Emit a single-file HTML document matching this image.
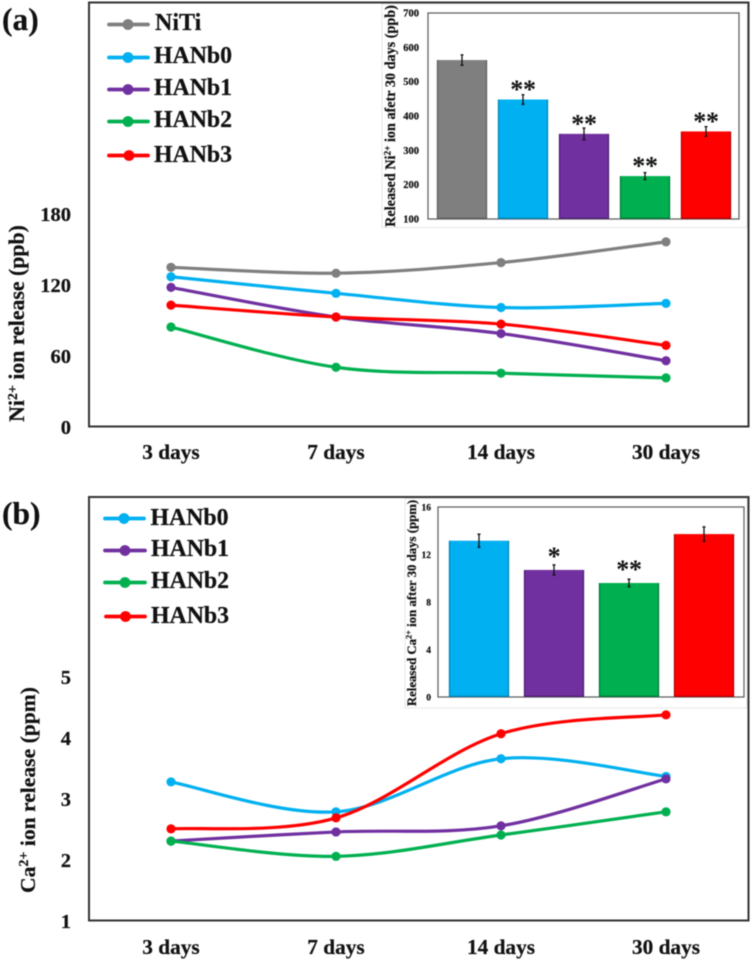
<!DOCTYPE html>
<html lang="en">
<head>
<meta charset="utf-8">
<title>Ni and Ca ion release charts</title>
<style>
html,body{margin:0;padding:0;background:#fff;width:751px;height:960px;overflow:hidden}
svg{display:block;filter:blur(0.4px)}
text{font-family:"Liberation Serif",serif;font-weight:bold;fill:#111;stroke:#111;stroke-width:0.22px}
</style>
</head>
<body>
<svg id="figure" xmlns="http://www.w3.org/2000/svg" width="751" height="960" viewBox="0 0 751 960">
  <rect width="751" height="960" fill="#fff"/>

  <text x="2" y="30" font-size="31.5">(a)</text>
  <text x="2" y="524" font-size="31.5">(b)</text>

  <rect x="89" y="2.5" width="659.5" height="424" fill="#fff" stroke="#333" stroke-width="2"/>
  <rect x="89" y="497" width="659.5" height="423.5" fill="#fff" stroke="#333" stroke-width="2"/>

  <g id="panelA"></g>
  <g id="panelB"></g>

  <text transform="translate(24,323.5) rotate(-90)" text-anchor="middle" font-size="21.8">Ni<tspan dy="-7" font-size="14">2+</tspan><tspan dy="7"> ion release (ppb)</tspan></text>
  <text transform="translate(35,790) rotate(-90)" text-anchor="middle" font-size="21.6">Ca<tspan dy="-7" font-size="14">2+</tspan><tspan dy="7"> ion release (ppm)</tspan></text>

  <g>
    <g><line x1="109" x2="148" y1="24.5" y2="24.5" stroke="#7f7f7f" stroke-width="3.8" stroke-linecap="round"/><circle cx="128" cy="24.5" r="5.4" fill="#7f7f7f"/><text x="155" y="30" font-size="24">NiTi</text></g>
    <g><line x1="109" x2="148" y1="57.5" y2="57.5" stroke="#00b0f0" stroke-width="3.8" stroke-linecap="round"/><circle cx="128" cy="57.5" r="5.4" fill="#00b0f0"/><text x="154" y="63" font-size="23.8">HANb0</text></g>
    <g><line x1="109" x2="148" y1="89.5" y2="89.5" stroke="#7030a0" stroke-width="3.8" stroke-linecap="round"/><circle cx="128" cy="89.5" r="5.4" fill="#7030a0"/><text x="154" y="95" font-size="23.8">HANb1</text></g>
    <g><line x1="109" x2="148" y1="121.5" y2="121.5" stroke="#00b050" stroke-width="3.8" stroke-linecap="round"/><circle cx="128" cy="121.5" r="5.4" fill="#00b050"/><text x="154" y="127" font-size="23.8">HANb2</text></g>
    <g><line x1="109" x2="148" y1="155.5" y2="155.5" stroke="#ff0000" stroke-width="3.8" stroke-linecap="round"/><circle cx="129" cy="155.5" r="5.4" fill="#ff0000"/><text x="154" y="162" font-size="23.8">HANb3</text></g>
  </g>

  <g>
    <g><line x1="105" x2="144" y1="518.5" y2="518.5" stroke="#00b0f0" stroke-width="3.8" stroke-linecap="round"/><circle cx="124" cy="518.5" r="5.4" fill="#00b0f0"/><text x="150.500" y="525" font-size="23.8">HANb0</text></g>
    <g><line x1="105" x2="145" y1="550.5" y2="550.5" stroke="#7030a0" stroke-width="3.8" stroke-linecap="round"/><circle cx="125" cy="550.5" r="5.4" fill="#7030a0"/><text x="151" y="556" font-size="23.8">HANb1</text></g>
    <g><line x1="105" x2="145" y1="582.5" y2="582.5" stroke="#00b050" stroke-width="3.8" stroke-linecap="round"/><circle cx="125" cy="582.5" r="5.4" fill="#00b050"/><text x="151" y="588" font-size="23.8">HANb2</text></g>
    <g><line x1="106" x2="145" y1="616.5" y2="616.5" stroke="#ff0000" stroke-width="3.8" stroke-linecap="round"/><circle cx="125.500" cy="616.5" r="5.4" fill="#ff0000"/><text x="151" y="623" font-size="23.8">HANb3</text></g>
  </g>

  <rect x="382" y="4" width="365" height="223.5" fill="#fff" stroke="#e6e6e6" stroke-width="1"/>
  <rect x="405" y="498.5" width="342" height="209.5" fill="#fff" stroke="#e6e6e6" stroke-width="1"/>
  <g id="insetA"></g>
  <g id="insetB"></g>

  <text transform="translate(395,116) rotate(-90)" text-anchor="middle" font-size="14.2">Released Ni<tspan dy="-4.500" font-size="9.300">2+</tspan><tspan dy="4.500"> ion afetr 30 days (ppb)</tspan></text>
  <text transform="translate(416,603) rotate(-90)" text-anchor="middle" font-size="12.8">Released Ca<tspan dy="-4.500" font-size="8.300">2+</tspan><tspan dy="4.500"> ion after 30 days (ppm)</tspan></text>
</svg>

<script>
// Shared categories
const days = ["3 days", "7 days", "14 days", "30 days"];

// Panel (a) Ni2+ release, ppb
const aTicks = [0, 60, 120, 180];
const aNiTi = [135, 130, 139, 156.5];
const aHANb0 = [127, 113, 101, 104.5];
const aHANb1 = [118, 93, 79, 56];
const aHANb2 = [84.5, 50.5, 45.5, 41.5];
const aHANb3 = [103, 93, 87, 69];

// Panel (b) Ca2+ release, ppm
const bTicks = [1, 2, 3, 4, 5];
const bHANb0 = [3.28, 2.79, 3.66, 3.37];
const bHANb1 = [2.31, 2.46, 2.56, 3.33];
const bHANb2 = [2.31, 2.06, 2.41, 2.79];
const bHANb3 = [2.51, 2.69, 4.07, 4.38];

// Inset (a) Ni2+ after 30 days, ppb
const insetATicks = [100, 200, 300, 400, 500, 600, 700];
const insetAValues = [563, 448, 348, 225, 355];
const insetAErrors = [15, 14, 17, 10, 14];
const insetAStars = ["", "**", "**", "**", "**"];

// Inset (b) Ca2+ after 30 days, ppm
const insetBTicks = [0, 4, 8, 12, 16];
const insetBValues = [13.16, 10.7, 9.6, 13.72];
const insetBErrors = [0.55, 0.42, 0.32, 0.6];
const insetBStars = ["", "*", "**", ""];

const NS = "http://www.w3.org/2000/svg";
const GRAY = "#7f7f7f", BLUE = "#00b0f0", PURPLE = "#7030a0", GREEN = "#00b050", RED = "#ff0000";

function make(parent, tag, attrs, content) {
  const node = document.createElementNS(NS, tag);
  for (const key in attrs) node.setAttribute(key, attrs[key]);
  if (content !== undefined) node.textContent = content;
  parent.appendChild(node);
  return node;
}

function smoothPath(pts) {
  let d = "M" + pts[0][0] + " " + pts[0][1];
  for (let i = 0; i < pts.length - 1; i++) {
    const p0 = pts[Math.max(i - 1, 0)], p1 = pts[i], p2 = pts[i + 1], p3 = pts[Math.min(i + 2, pts.length - 1)];
    const c1x = p1[0] + (p2[0] - p0[0]) / 6, c1y = p1[1] + (p2[1] - p0[1]) / 6;
    const c2x = p2[0] - (p3[0] - p1[0]) / 6, c2y = p2[1] - (p3[1] - p1[1]) / 6;
    d += " C" + c1x + " " + c1y + " " + c2x + " " + c2y + " " + p2[0] + " " + p2[1];
  }
  return d;
}

const xDay = i => 171 + 165 * i;

function drawLinePanel(root, yScale, ticks, catBaseline, series) {
  ticks.forEach(t => {
    const label = make(root, "text", {x: 71, y: yScale(t) + 7, "text-anchor": "end", "font-size": 20.5}, String(t));
    
    
  });
  days.forEach((d, i) => {
    const label = make(root, "text", {x: xDay(i), y: catBaseline, "text-anchor": "middle", "font-size": 21.3}, d);
    
    
  });
  series.forEach(s => {
    const pts = s.values.map((v, i) => [xDay(i), yScale(v)]);
    const line = make(root, "path", {d: smoothPath(pts), fill: "none", stroke: s.color, "stroke-width": 3.2, "stroke-linecap": "round"});
    
    
    pts.forEach(p => {
      const dot = make(root, "circle", {cx: p[0], cy: p[1], r: 4.6, fill: s.color});
      
      
    });
  });
}

function drawInset(root, box, yScale, ticks, values, errors, stars, colors, darks, barWidth, barStep, firstBar, tickX, tickFont, starGap) {
  const plot = make(root, "rect", {x: box.x, y: box.y, width: box.w, height: box.h, fill: "#fff", stroke: "#5a5a5a", "stroke-width": 1.2});
  
  
  ticks.forEach(t => {
    const label = make(root, "text", {x: tickX, y: yScale(t) + 3.5, "text-anchor": "end", "font-size": tickFont}, String(t));
    
    
  });
  values.forEach((v, i) => {
    const x = firstBar + barStep * i, top = yScale(v), base = box.y + box.h, cx = x + barWidth / 2;
    const bar = make(root, "rect", {x: x, y: top, width: barWidth, height: base - top, fill: colors[i]});
    
    
    const edge = make(root, "path", {d: "M" + x + " " + top + " V" + (base - 0.7) + " H" + (x + barWidth) + " V" + top, fill: "none", stroke: darks[i], "stroke-width": 1.3});
    
    
    const hi = yScale(v + errors[i]), lo = yScale(v - errors[i]);
    const err = make(root, "path", {d: "M" + cx + " " + hi + " V" + lo + " M" + (cx - 1.5) + " " + hi + " H" + (cx + 1.5) + " M" + (cx - 1.5) + " " + lo + " H" + (cx + 1.5), stroke: "#111", "stroke-width": 1.3, fill: "none"});
    
    
    if (stars[i]) {
      const star = make(root, "text", {x: cx, y: top - starGap + 11, "text-anchor": "middle", "font-size": 26, "letter-spacing": "-0.3", style: "stroke-width:0"}, stars[i]);
      
      
    }
  });
}

const yA = v => 427 - v * 1.183;
const yB = v => 921 - (v - 1) * 61;
const yInsetA = v => 219 - (v - 100) * 206 / 600;
const yInsetB = v => 697 - v * 190 / 16;

drawLinePanel(document.getElementById("panelA"), yA, aTicks, 459, [
  {values: aNiTi, color: GRAY}, {values: aHANb0, color: BLUE}, {values: aHANb1, color: PURPLE},
  {values: aHANb2, color: GREEN}, {values: aHANb3, color: RED}
]);
drawLinePanel(document.getElementById("panelB"), yB, bTicks, 954, [
  {values: bHANb0, color: BLUE}, {values: bHANb1, color: PURPLE},
  {values: bHANb2, color: GREEN}, {values: bHANb3, color: RED}
]);
drawInset(document.getElementById("insetA"), {x: 428, y: 13, w: 311, h: 206}, yInsetA, insetATicks,
  insetAValues, insetAErrors, insetAStars,
  [GRAY, BLUE, PURPLE, GREEN, RED], ["#5f5f5f", "#0085b8", "#4f2175", "#007a38", "#b80000"],
  49, 61, 437.5, 419, 10.5, 12.5);
drawInset(document.getElementById("insetB"), {x: 438, y: 507, w: 306, h: 190}, yInsetB, insetBTicks,
  insetBValues, insetBErrors, insetBStars,
  [BLUE, PURPLE, GREEN, RED], ["#0085b8", "#4f2175", "#007a38", "#b80000"],
  59, 75, 449.5, 431, 9.5, 16);
</script>
</body>
</html>
